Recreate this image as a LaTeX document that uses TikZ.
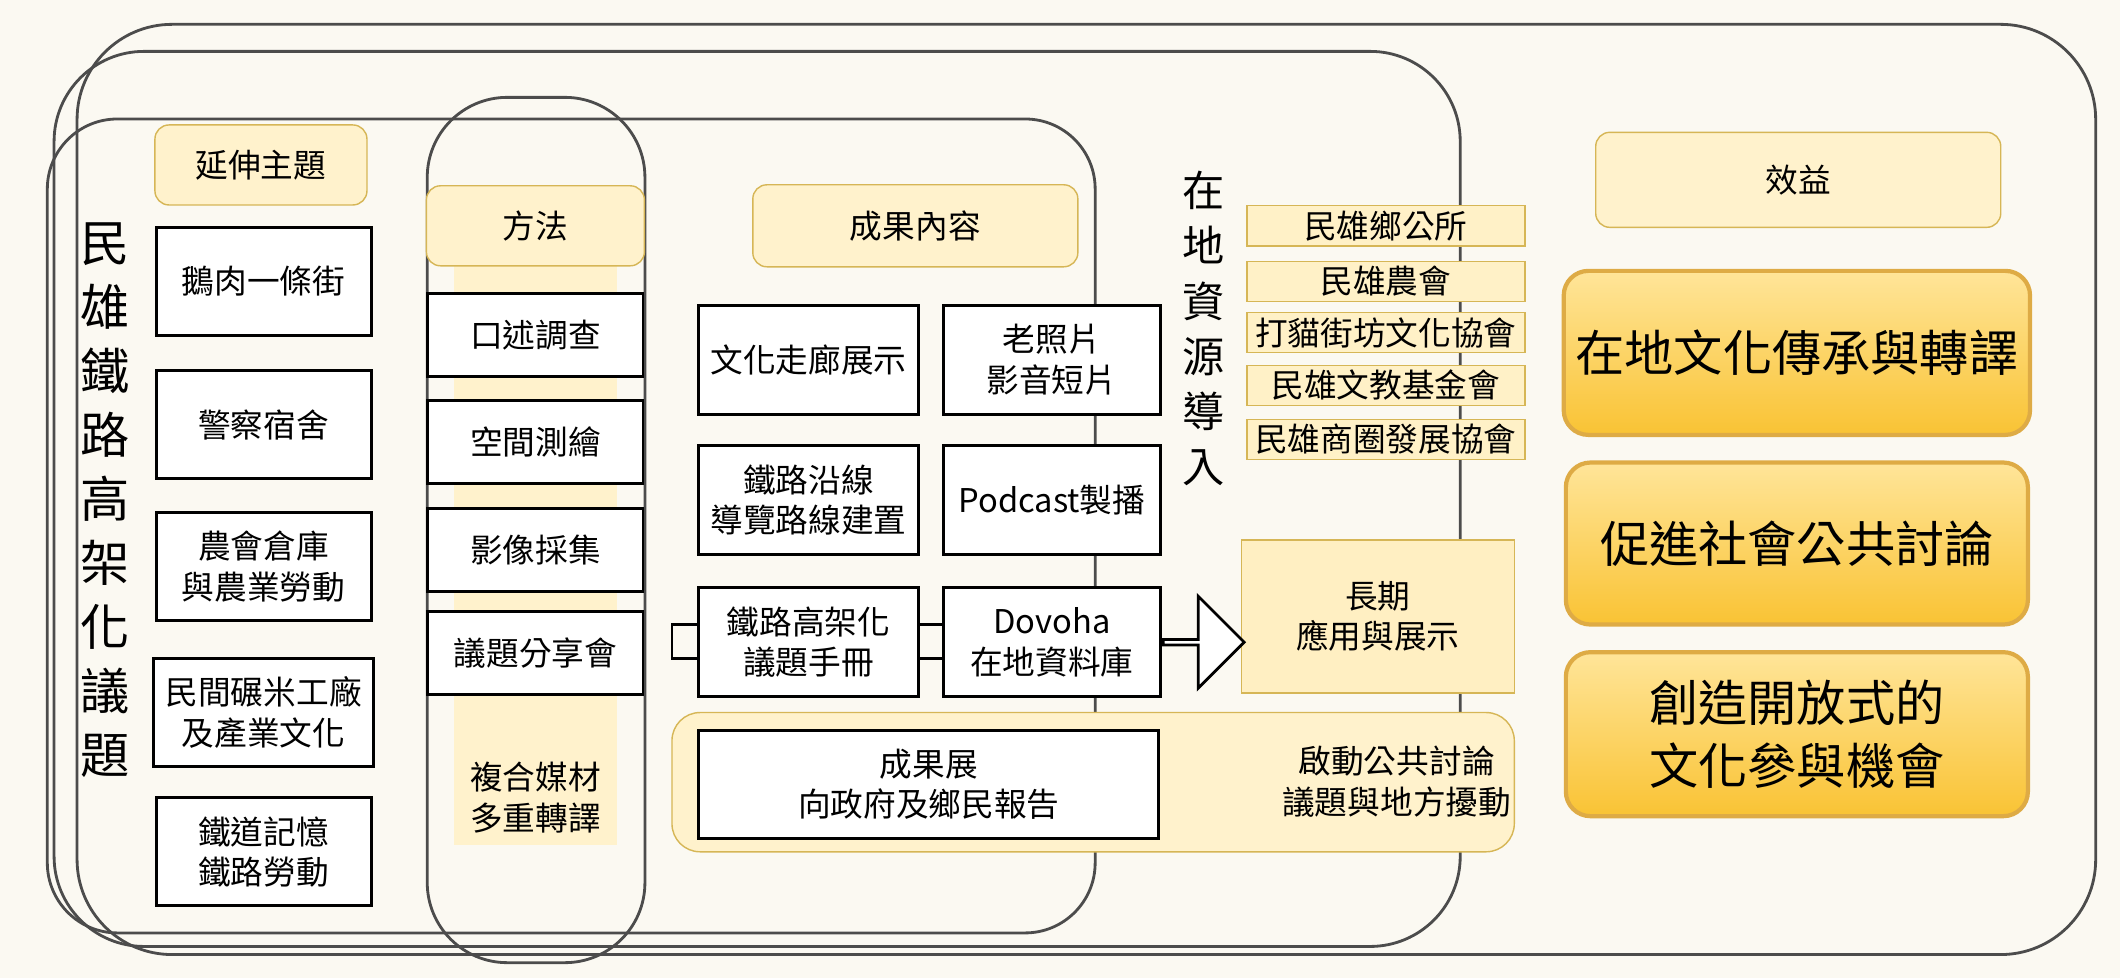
\documentclass[tikz,border=0pt]{standalone}
\usepackage{fontspec}
\setmainfont{Noto Sans CJK TC}
\usetikzlibrary{shapes.arrows}
\definecolor{cream}{HTML}{FBF9F2}
\definecolor{paleY}{HTML}{FFF2CC}
\definecolor{deepY}{HTML}{FFE599}
\definecolor{orangeY}{HTML}{F9C334}
\definecolor{bord}{HTML}{D6B656}

\tikzset{
	wbox/.style={draw=black, thick, fill=white, align=center, font=\fontsize{9.3}{11.5}\selectfont},
	ybox/.style={draw=bord, fill=paleY, rounded corners=4pt, align=center, font=\fontsize{9.3}{11.5}\selectfont},
	obox/.style={draw=bord!80!orange, very thick, top color=deepY, bottom color=orangeY, rounded corners=7pt, align=center, font=\fontsize{14}{18}\selectfont},
	ring/.style={draw=black!70, thick}
}

\begin{document}
\begin{tikzpicture}[x=0.01352cm, y=-0.01352cm]

	\fill[cream] (0,0) rectangle (1568,723);
	\useasboundingbox (0,0) rectangle (1568,723);

	% nested groups
	\draw[ring, rounded corners=0.95cm] (57,18) rectangle (1550,706);
	\draw[ring, rounded corners=0.9cm] (40,38) rectangle (1080,700);
	\draw[ring, rounded corners=0.7cm] (35,88) rectangle (810,690);
	\draw[ring, rounded corners=0.8cm] (316,72) rectangle (477,712);

	% strips
	\fill[paleY] (336,196) rectangle (456,625);
	\draw[draw=bord, fill=paleY, rounded corners=8pt] (497,527) rectangle (1120,630);

	% headers
	\node[ybox, minimum width=2.12cm, minimum height=0.8cm] (ext) at (193,122) {延伸主題};
	\node[ybox, minimum width=2.18cm, minimum height=0.8cm] (method) at (396,167) {方法};
	\node[ybox, minimum width=3.25cm, minimum height=0.82cm] (result) at (677,167) {成果內容};
	\node[ybox, minimum width=4.05cm, minimum height=0.95cm] (benefit) at (1330,133) {效益};

	\node[font=\fontsize{14}{18.2}\selectfont, align=center] (title) at (78,370) {民\\雄\\鐵\\路\\高\\架\\化\\議\\題};

	% topics
	\foreach \t/\y [count=\i] in {鵝肉一條街/208, 警察宿舍/314, 農會倉庫\\與農業勞動/419, 民間碾米工廠\\及產業文化/527, 鐵道記憶\\鐵路勞動/630}
		\node[wbox, minimum width=2.15cm, minimum height=1.08cm] (topic\i) at (195,\y) {\t};

	% methods
	\foreach \t/\y [count=\i] in {口述調查/248, 空間測繪/327, 影像採集/407, 議題分享會/483}
		\node[wbox, minimum width=2.15cm, minimum height=0.83cm] (meth\i) at (396,\y) {\t};
	\node[align=center, font=\fontsize{9.3}{11.5}\selectfont] (mix) at (396,590) {複合媒材\\多重轉譯};

	% outputs
	\node[wbox, minimum width=2.2cm, minimum height=1.09cm] (gallery) at (598,266) {文化走廊展示};
	\node[wbox, minimum width=2.17cm, minimum height=1.09cm] (photo) at (778,266) {老照片\\影音短片};
	\node[wbox, minimum width=2.2cm, minimum height=1.09cm] (route) at (598,370) {鐵路沿線\\導覽路線建置};
	\node[wbox, minimum width=2.17cm, minimum height=1.09cm] (podcast) at (778,370) {Podcast製播};
	\node[wbox, minimum width=2.2cm, minimum height=1.09cm] (book) at (598,475) {鐵路高架化\\議題手冊};
	\node[wbox, minimum width=2.17cm, minimum height=1.09cm] (dovoha) at (778,475) {Dovoha\\在地資料庫};
	\node[wbox, minimum width=4.6cm, minimum height=1.08cm] (expo) at (687,580) {成果展\\向政府及鄉民報告};
	\node[align=center, font=\fontsize{9.3}{11.5}\selectfont] (debate) at (1033,578) {啟動公共討論\\議題與地方擾動};

	% links
	\coordinate (bk1) at (497,462);
	\coordinate (bk2) at (497,487);
	\draw[thick] (book.west |- bk1) -- (bk1) -- (bk2) -- (book.west |- bk2);
	\draw[thick] (book.east |- bk1) -- (dovoha.west |- bk1);
	\draw[thick] (book.east |- bk2) -- (dovoha.west |- bk2);

	\node[ybox, rounded corners=0pt, fill=deepY!60, minimum width=2.73cm, minimum height=1.53cm] (longterm) at (1019,456) {長期\\應用與展示};
	\node[single arrow, draw=black, thick, fill=white, minimum height=0.81cm, minimum width=0.92cm,
		single arrow head extend=0.22cm, single arrow head indent=0pt, inner sep=0pt, anchor=tail] (push) at (dovoha.east) {};

	% resources
	\node[font=\fontsize{12}{15.7}\selectfont, align=center] (local) at (890,243) {在\\地\\資\\源\\導\\入};
	\foreach \t/\y [count=\i] in {民雄鄉公所/167, 民雄農會/208, 打貓街坊文化協會/246, 民雄文教基金會/285, 民雄商圈發展協會/325}
		\node[ybox, rounded corners=0pt, fill=deepY!55, minimum width=2.78cm, minimum height=0.4cm, inner sep=1pt] (res\i) at (1025,\y) {\t};

	% benefits
	\node[obox, minimum width=4.62cm, minimum height=1.64cm] (ben1) at (1329,261) {在地文化傳承與轉譯};
	\node[obox, minimum width=4.62cm, minimum height=1.62cm] (ben2) at (1329,402) {促進社會公共討論};
	\node[obox, minimum width=4.62cm, minimum height=1.64cm] (ben3) at (1329,543) {創造開放式的\\文化參與機會};

\end{tikzpicture}
\end{document}
